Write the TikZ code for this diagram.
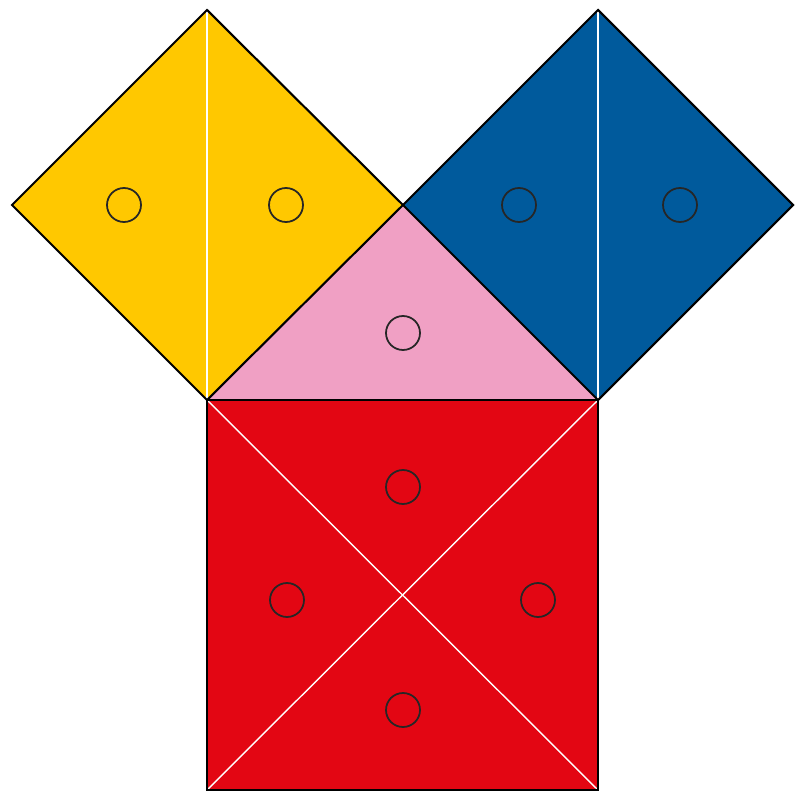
\documentclass[tikz,border=0pt]{standalone}
\begin{document}
\begin{tikzpicture}[x=0.03cm,y=-0.03cm,
  outline/.style={draw=black,line width=1.8pt,line join=miter},
  divider/.style={draw=white,line width=1.2pt},
  dot/.style={draw=black!85,line width=1.5pt}]
\definecolor{cyellow}{HTML}{FFC800}
\definecolor{cblue}{HTML}{005A9C}
\definecolor{cpink}{HTML}{F0A0C4}
\definecolor{cred}{HTML}{E30613}
\useasboundingbox (0,0) rectangle (795,794);
\fill[white] (0,0) rectangle (795,794);
\coordinate (A) at (207,400);
\coordinate (B) at (598,400);
\coordinate (C) at (403,205);
\coordinate (Y1) at (207,10);
\coordinate (Y2) at (12,205);
\coordinate (B1) at (598,10);
\coordinate (B2) at (793,205);
\coordinate (R1) at (598,790);
\coordinate (R2) at (207,790);
% fills
\fill[cyellow] (A) -- (C) -- (Y1) -- (Y2) -- cycle;
\fill[cblue] (B) -- (C) -- (B1) -- (B2) -- cycle;
\fill[cpink] (A) -- (B) -- (C) -- cycle;
\fill[cred] (A) -- (B) -- (R1) -- (R2) -- cycle;
% white dividers
\draw[divider] (Y1) -- (A);
\draw[divider] (B1) -- (B);
\draw[divider] (A) -- (R1);
\draw[divider] (B) -- (R2);
% outlines
\draw[outline] (A) -- (C) -- (Y1) -- (Y2) -- cycle;
\draw[outline] (B) -- (C) -- (B1) -- (B2) -- cycle;
\draw[outline] (A) -- (B) -- (R1) -- (R2) -- cycle;
% circles
\foreach \n/\x/\y in {c1/124/205, c2/286/205, c3/519/205, c4/680/205, c5/403/333,
  c6/403/487, c7/287/600, c8/538/600, c9/403/710}
  \draw[dot] (\x,\y) circle[radius=0.51cm];
\end{tikzpicture}
\end{document}
